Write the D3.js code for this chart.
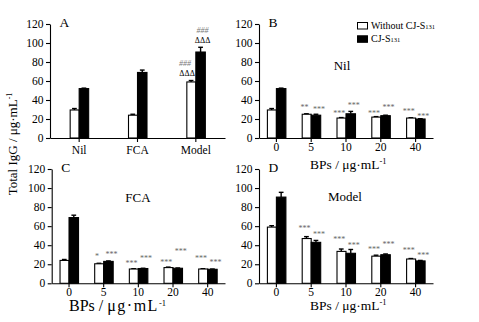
<!DOCTYPE html>
<html>
<head>
<meta charset="UTF-8">
<script src="https://d3js.org/d3.v7.min.js"></script>
<style>
  body { margin: 0; background: #fff; }
  svg text { font-family: "Liberation Serif", "Times New Roman", serif; }
</style>
</head>
<body>
<svg id="canvas"></svg>
<script>

width = 479;
height = 322;

// categories
groupsA = ["Nil", "FCA", "Model"];
dosesBP = ["0", "5", "10", "20", "40"];
yTicks = [0, 20, 40, 60, 80, 100, 120];

// panel A
aWithout = [29.5, 24, 59];
aWithoutErr = [1.5, 1, 1.5];
aWith = [52, 69, 90.5];
aWithErr = [0.5, 2.5, 5];

// panel B (Nil)
nilWithout = [29.5, 25, 21, 22, 21];
nilWithoutErr = [1.5, 0.5, 0.5, 0.5, 0.3];
nilWith = [52, 24, 25.5, 23.5, 20];
nilWithErr = [0.5, 1, 2.5, 0.5, 0.3];
nilWithoutSig = ["", "**", "***", "***", "***"];
nilWithoutSigY = [0, 33.5, 27, 27, 30];
nilWithSig = ["", "***", "***", "***", "***"];
nilWithSigY = [0, 31.5, 36, 34, 24.5];

// panel C (FCA)
fcaWithout = [24, 20.5, 15, 16.5, 15];
fcaWithoutErr = [1, 0.5, 0.3, 0.5, 0.3];
fcaWith = [69, 23, 15.5, 15.8, 14.7];
fcaWithErr = [2.5, 0.5, 0.3, 0.3, 0.3];
fcaWithoutSig = ["", "*", "***", "***", "***"];
fcaWithoutSigY = [0, 29.8, 22, 23.8, 27.4];
fcaWithSig = ["", "***", "***", "***", "***"];
fcaWithSigY = [0, 31.6, 28, 35, 23.8];

// panel D (Model)
modelWithout = [59, 47, 33.5, 28.5, 25.5];
modelWithoutErr = [1.5, 2, 2.5, 1, 0.5];
modelWith = [90.5, 43, 31.5, 30, 23.5];
modelWithErr = [5, 2, 4, 0.8, 0.5];
modelWithoutSig = ["", "***", "***", "***", "***"];
modelWithoutSigY = [0, 59.6, 47.4, 36.8, 36];
modelWithSig = ["", "***", "***", "***", "***"];
modelWithSigY = [0, 52.6, 41.4, 42, 30.8];

// panel A marks over Model
aHashY = [78.6, 113.7];
aDeltaY = [68, 103];

canvas = d3.select("#canvas")
    .attr("width", width)
    .attr("height", height);

function rows(cats, w, we, b, be, ws, wsy, bs, bsy) {
    return cats.map((c, i) => ({
        cat: c,
        vals: [
            {s: 0, v: w[i], e: we[i], sig: ws ? ws[i] : "", sy: wsy ? wsy[i] : 0},
            {s: 1, v: b[i], e: be[i], sig: bs ? bs[i] : "", sy: bsy ? bsy[i] : 0}
        ]
    }));
}

panels = [
    {id: "A", x0: 50, x1: 225, yB: 138, yT: 24,
     data: rows(groupsA, aWithout, aWithoutErr, aWith, aWithErr)},
    {id: "B", x0: 259, x1: 433, yB: 138, yT: 24, title: "Nil", tx: 342, ty: 70,
     data: rows(dosesBP, nilWithout, nilWithoutErr, nilWith, nilWithErr,
                nilWithoutSig, nilWithoutSigY, nilWithSig, nilWithSigY)},
    {id: "C", x0: 51.7, x1: 225, yB: 283.3, yT: 169, title: "FCA", tx: 138, ty: 201.7,
     data: rows(dosesBP, fcaWithout, fcaWithoutErr, fcaWith, fcaWithErr,
                fcaWithoutSig, fcaWithoutSigY, fcaWithSig, fcaWithSigY)},
    {id: "D", x0: 259, x1: 433, yB: 283.3, yT: 169, title: "Model", tx: 345, ty: 201,
     data: rows(dosesBP, modelWithout, modelWithoutErr, modelWith, modelWithErr,
                modelWithoutSig, modelWithoutSigY, modelWithSig, modelWithSigY)}
];

panels.forEach(drawPanel);

function drawPanel(p) {
    var g = canvas.append("g");
    var n = p.data.length;
    var pin = 1 - 19 * n / (p.x1 - p.x0);

    var x = d3.scaleBand()
        .domain(p.data.map(d => d.cat))
        .range([p.x0, p.x1])
        .paddingInner(pin)
        .paddingOuter(pin / 2);
    var xs = d3.scaleBand().domain([0, 1]).range([0, x.bandwidth()]);
    var y = d3.scaleLinear().domain([0, 120]).range([p.yB, p.yT]);

    // axes
    var ya = g.append("g")
        .attr("transform", "translate(" + p.x0 + ",0)")
        .call(d3.axisLeft(y).tickValues(yTicks).tickSize(4).tickSizeOuter(0).tickPadding(2.5));
    var xa = g.append("g")
        .attr("transform", "translate(0," + p.yB + ")")
        .call(d3.axisBottom(x).tickSize(4).tickSizeOuter(0).tickPadding(p.id == "A" ? 4 : 1));
    [ya, xa].forEach(a => {
        a.attr("font-family", null).attr("font-size", null);
        a.selectAll("text").attr("font-size", 11.5).attr("fill", "#000");
        a.selectAll("line, path").attr("stroke", "#000").attr("stroke-width", 1.1);
    });

    var grp = g.selectAll(".grp").data(p.data).enter().append("g")
        .attr("transform", d => "translate(" + x(d.cat) + ",0)");

    var bar = grp.selectAll(".bar").data(d => d.vals).enter().append("g");

    // error bars (upward only)
    bar.append("line")
        .attr("x1", d => xs(d.s) + xs.bandwidth() / 2)
        .attr("x2", d => xs(d.s) + xs.bandwidth() / 2)
        .attr("y1", d => y(d.v))
        .attr("y2", d => y(d.v + d.e))
        .attr("stroke", "#000").attr("stroke-width", 1.4);
    bar.append("line")
        .attr("x1", d => xs(d.s) + xs.bandwidth() * 0.25)
        .attr("x2", d => xs(d.s) + xs.bandwidth() * 0.75)
        .attr("y1", d => y(d.v + d.e))
        .attr("y2", d => y(d.v + d.e))
        .attr("stroke", "#000").attr("stroke-width", 1.4);

    bar.append("rect")
        .attr("x", d => xs(d.s) + (d.s == 0 ? 0.5 : 0))
        .attr("width", d => xs.bandwidth() - (d.s == 0 ? 0.5 : 0))
        .attr("y", d => y(d.v))
        .attr("height", d => y(0) - y(d.v))
        .attr("fill", d => d.s == 0 ? "#fff" : "#000")
        .attr("stroke", "#000").attr("stroke-width", 1.1);

    // significance stars
    bar.filter(d => d.sig).append("text")
        .attr("x", d => xs(d.s) + xs.bandwidth() / 2 + (d.s == 0 ? -2 : 3))
        .attr("y", d => y(d.sy) + 4)
        .attr("text-anchor", "middle")
        .attr("font-size", 8)
        .attr("fill", "#666")
        .text(d => d.sig);

    // panel letter
    g.append("text")
        .attr("x", p.x0 + 9.5).attr("y", p.yT + 3.3)
        .attr("font-size", 13.5)
        .text(p.id);

    if (p.title) {
        g.append("text")
            .attr("x", p.tx).attr("y", p.ty)
            .attr("text-anchor", "middle")
            .attr("font-size", 13)
            .text(p.title);
    }

    if (p.id == "A") {
        var mg = grp.filter(d => d.cat == "Model");
        mg.selectAll(".hash").data([0, 1]).enter().append("text")
            .attr("x", s => xs(s) + xs.bandwidth() / 2 + (s == 0 ? -6 : 2))
            .attr("y", s => y(aHashY[s]) + 2.7)
            .attr("text-anchor", "middle")
            .attr("font-size", 8).attr("font-style", "italic")
            .attr("fill", "#777")
            .text("###");
        mg.selectAll(".delta").data([0, 1]).enter().append("text")
            .attr("x", s => xs(s) + xs.bandwidth() / 2 + (s == 0 ? -4 : 2))
            .attr("y", s => y(aDeltaY[s]) + 2.7)
            .attr("text-anchor", "middle")
            .attr("font-size", 8)
            .text("ΔΔΔ");
    }
}

// x axis titles
function bpLabel(xp, yp, size, unitSpacing) {
    var t = canvas.append("text")
        .attr("x", xp).attr("y", yp)
        .attr("font-size", size);
    t.append("tspan").text("BPs / ");
    t.append("tspan").attr("letter-spacing", unitSpacing || 0).text("μg·mL");
    t.append("tspan").attr("dy", -5).attr("font-size", 8.5).text("-1");
}
bpLabel(310, 168.5, 13.5);
bpLabel(69, 311, 16, 1.5);
bpLabel(310, 310, 13.5);

// y axis title
ytitle = canvas.append("text")
    .attr("transform", "translate(17,144) rotate(-90)")
    .attr("text-anchor", "middle")
    .attr("font-size", 13);
ytitle.append("tspan").text("Total IgG / μg·mL");
ytitle.append("tspan").attr("dy", -5).attr("font-size", 8).text("-1");

// legend
legendNames = ["Without CJ-S", "CJ-S"];
leg = canvas.append("g").selectAll("g").data(legendNames).enter().append("g")
    .attr("transform", (d, i) => "translate(357.5," + (22.5 + i * 13.3) + ")");
leg.append("rect")
    .attr("width", 10).attr("height", 6.5)
    .attr("fill", (d, i) => i == 0 ? "#fff" : "#000")
    .attr("stroke", "#000").attr("stroke-width", 1);
legText = leg.append("text")
    .attr("x", 13.5).attr("y", 6.6)
    .attr("font-size", 10);
legText.append("tspan").text(d => d);
legText.append("tspan").attr("font-size", 6.5).text("131");

</script>
</body>
</html>
